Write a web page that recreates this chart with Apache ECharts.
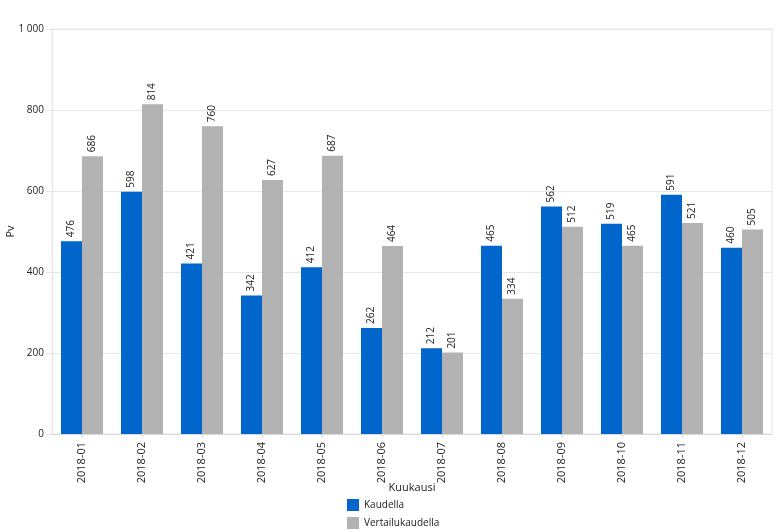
<!DOCTYPE html>
<html><head><meta charset="utf-8">
<script src="https://cdn.jsdelivr.net/npm/echarts@6/dist/echarts.min.js"></script>
<style>html,body{margin:0;padding:0;background:#fff}#c{width:784px;height:532px}</style>
</head><body><div id="c"></div>
<script>
var categories = ['2018-01','2018-02','2018-03','2018-04','2018-05','2018-06','2018-07','2018-08','2018-09','2018-10','2018-11','2018-12'];
var kaudella = [476,598,421,342,412,262,212,465,562,519,591,460];
var vertailu = [686,814,760,627,687,464,201,334,512,465,521,505];
var yTicks = [0,200,400,600,800,1000];

var chart = echarts.init(document.getElementById('c'));
var ff = 'Open Sans';
var lbl = {show:true, position:'top', rotate:90, align:'left', verticalAlign:'middle', distance:4, fontSize:10, color:'#222', fontFamily:ff};
chart.setOption({
  animation:false,
  textStyle:{fontFamily:ff},
  grid:{left:52, right:12, top:29, bottom:98, containLabel:false, outerBoundsMode:'none', show:true, borderColor:'#e6e6e6', borderWidth:1},
  legend:{orient:'vertical', left:342, top:494, height:40, itemWidth:12, itemHeight:12, itemGap:6, icon:'rect',
    textStyle:{fontSize:10, color:'#222', fontFamily:ff}, data:['Kaudella','Vertailukaudella']},
  xAxis:{type:'category', data:categories, name:'Kuukausi', nameLocation:'middle', nameGap:48, nameMoveOverlap:false,
    nameTextStyle:{fontSize:11, color:'#222', fontFamily:ff},
    axisLine:{lineStyle:{color:'#d9d9d9'}}, axisTick:{show:true, alignWithLabel:true, length:4, lineStyle:{color:'#d9d9d9'}},
    axisLabel:{rotate:90, fontSize:11, color:'#222', margin:8, fontFamily:ff}},
  yAxis:{type:'value', min:0, max:1000, interval:200, name:'Pv', nameLocation:'middle', nameGap:36, nameMoveOverlap:false,
    nameTextStyle:{fontSize:11, color:'#222', fontFamily:ff},
    axisLine:{show:true, lineStyle:{color:'#e6e6e6'}}, axisTick:{show:true, length:6, lineStyle:{color:'#e6e6e6'}},
    splitLine:{lineStyle:{color:'#e6e6e6'}},
    axisLabel:{fontSize:10, color:'#222', margin:8, fontFamily:ff, formatter:function(v){return String(v).replace(/\B(?=(\d{3})+(?!\d))/g,' ');}}},
  series:[
    {name:'Kaudella', type:'bar', data:kaudella, itemStyle:{color:'#0066CC'}, barGap:'0%', barCategoryGap:'30%', label:lbl},
    {name:'Vertailukaudella', type:'bar', data:vertailu, itemStyle:{color:'#B2B2B2'}, barGap:'0%', barCategoryGap:'30%', label:lbl}
  ]
});
</script></body></html>
